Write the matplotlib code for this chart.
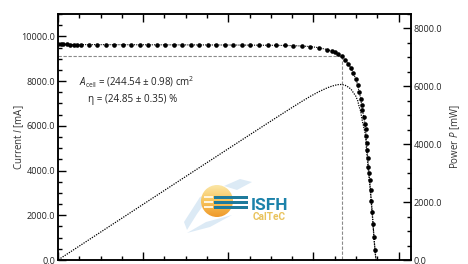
import numpy as np
import matplotlib
matplotlib.use("Agg")
import matplotlib.pyplot as plt
from matplotlib.patches import Circle, Rectangle, Polygon
from matplotlib.ticker import MultipleLocator, FormatStrFormatter

plt.rcParams['font.family'] = ['Open Sans', 'DejaVu Sans']
plt.rcParams['mathtext.fontset'] = 'custom'
plt.rcParams['mathtext.rm'] = 'Open Sans'
plt.rcParams['mathtext.it'] = 'Open Sans:italic'

voltage = [0.001, 0.007, 0.012, 0.020, 0.028, 0.038, 0.045, 0.053,
           0.072, 0.092, 0.112, 0.132, 0.152, 0.172, 0.192, 0.212, 0.232, 0.252,
           0.272, 0.292, 0.312, 0.332, 0.352, 0.372, 0.392, 0.412, 0.432, 0.452,
           0.472, 0.492, 0.512, 0.532, 0.552, 0.572, 0.592, 0.612, 0.632,
           0.6425, 0.650, 0.658, 0.666, 0.674, 0.681, 0.688, 0.693, 0.699, 0.704,
           0.707, 0.711, 0.713, 0.715, 0.718, 0.721, 0.7225, 0.7235, 0.7245, 0.726,
           0.7275, 0.729, 0.7305, 0.732, 0.734, 0.736, 0.738, 0.740, 0.742, 0.7445,
           0.7475]
current = [9650, 9645, 9640, 9638, 9636, 9634, 9633, 9632,
           9630, 9629, 9628, 9627, 9626, 9625, 9624, 9623, 9622, 9621,
           9620, 9619, 9618, 9617, 9616, 9615, 9614, 9612, 9610, 9608,
           9605, 9602, 9598, 9592, 9584, 9570, 9545, 9495, 9410,
           9344, 9286, 9210, 9107, 8960, 8781, 8585, 8362, 8112, 7812,
           7513, 7219, 6920, 6696, 6397, 6103, 5850, 5560, 5240, 4900,
           4554, 4165, 3870, 3585, 3112, 2634, 2143, 1594, 1027, 433,
           -150]

a_cell_text = r"$A_{\mathrm{cell}}$ = (244.54 ± 0.98) cm$^{2}$"
eta_text = "η = (24.85 ± 0.35) %"

V = np.array(voltage)
I = np.array(current)
P = V * I  # mW
k = np.argmax(P)
v_mpp, i_mpp = V[k], I[k]

fig = plt.figure(figsize=(4.68, 2.64), dpi=100)
W, H = 468, 264
ax = fig.add_axes([58 / W, 4 / H, 353 / W, 246 / H])
ax2 = ax.twinx()

ax.plot(V, I, color='black', linestyle=(0, (1, 1)), linewidth=0.8,
        marker='o', markersize=3.3, markeredgewidth=0, zorder=5)
ax2.plot(V, P, color='black', linestyle=(0, (1, 1)), linewidth=0.9, zorder=4)

ax.plot([0, v_mpp], [i_mpp, i_mpp], color='#8a8a8a', linewidth=0.8,
        linestyle=(0, (3, 1.5)))
ax.plot([v_mpp, v_mpp], [i_mpp, 0], color='#8a8a8a', linewidth=0.8,
        linestyle=(0, (3, 1.5)))

ax.set_xlim(0, 0.829)
ax.set_ylim(0, 11000)
ax2.set_ylim(0, 8500)

ax.xaxis.set_major_locator(MultipleLocator(0.2))
ax.xaxis.set_minor_locator(MultipleLocator(0.05))
ax.yaxis.set_major_locator(MultipleLocator(2000))
ax.yaxis.set_minor_locator(MultipleLocator(500))
ax2.yaxis.set_major_locator(MultipleLocator(2000))
ax2.yaxis.set_minor_locator(MultipleLocator(500))
ax.yaxis.set_major_formatter(FormatStrFormatter('%.1f'))
ax2.yaxis.set_major_formatter(FormatStrFormatter('%.1f'))

ax.tick_params(which='both', direction='in', top=True, right=False,
               labelbottom=False, labelsize=6.5, labelcolor='#222222',
               width=1.0, pad=2)
ax.tick_params(which='major', length=6)
ax.tick_params(which='minor', length=3)
ax2.tick_params(which='both', direction='in', labelsize=6.5,
                labelcolor='#222222', width=1.0, pad=2)
ax2.tick_params(which='major', length=6)
ax2.tick_params(which='minor', length=3)

for a in (ax, ax2):
    for s in a.spines.values():
        s.set_linewidth(1.1)

ax.set_ylabel("Current $I$ [mA]", fontsize=7, color='#333333', labelpad=-3.5)
ax2.set_ylabel("Power $P$ [mW]", fontsize=7, color='#333333', rotation=90,
               labelpad=4)

# overlay in pixel coordinates for the annotation and logo
ov = fig.add_axes([0, 0, 1, 1], zorder=10)
ov.axis('off')
ov.patch.set_alpha(0)

ov.text(79, 86, a_cell_text, fontsize=7.0, color='#222222', va='baseline')
ov.text(88, 102, eta_text, fontsize=7.1, color='#222222', va='baseline')

# ISFH CalTeC logo (approximation)
for pts in ([(184, 222), (200, 197), (212, 193), (197, 214), (187, 230)],
            [(187, 233), (206, 222), (232, 215), (210, 227)],
            [(224, 186), (240, 179), (252, 182), (237, 190)]):
    ov.add_patch(Polygon(pts, closed=True, facecolor='#9cc3e4', alpha=0.35,
                         edgecolor='none'))
grad = np.linspace(0, 1, 64)[:, None] * np.ones((1, 64))
cmap = matplotlib.colors.LinearSegmentedColormap.from_list(
    'sun', ['#fbe6a6', '#f7c45c', '#ef9a2c'])
circ = Circle((217, 201), 16, transform=ov.transData)
im = ov.imshow(grad, cmap=cmap, extent=(201, 233, 217, 185), aspect='auto',
               zorder=11)
im.set_clip_path(circ)
for yb in (195.5, 200.5, 205.5):
    ov.add_patch(Rectangle((214, yb), 34, 3, facecolor='#1e7b9c',
                           edgecolor='none', zorder=12))
    ov.add_patch(Rectangle((204, yb + 0.8), 9, 1.2, facecolor='#fff4dc',
                           edgecolor='none', zorder=12))
ov.set_xlim(0, W)
ov.set_ylim(H, 0)
ov.text(251, 210, "ISFH", fontsize=12.5, fontweight='bold', color='#1c82aa',
        family='Roboto', va='baseline', zorder=13)
ov.text(253, 220, "CalTeC", fontsize=7.3, fontweight='bold', color='#e9c35c',
        family='Roboto', va='baseline', zorder=13)

fig.savefig('out.png', dpi=100)
